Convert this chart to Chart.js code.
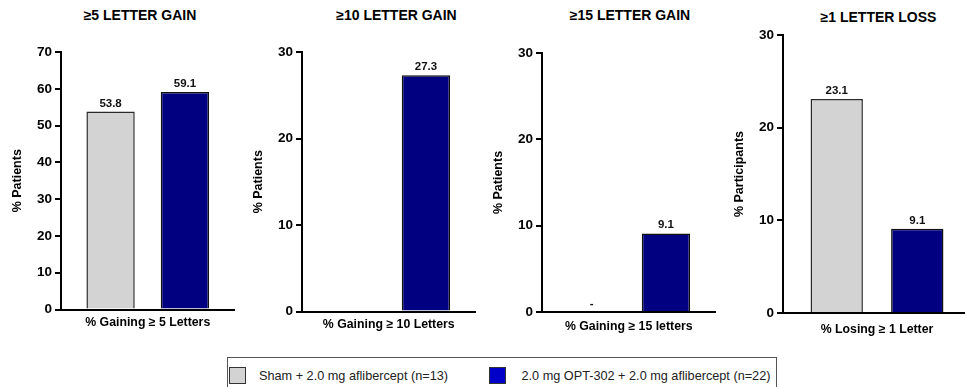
<!DOCTYPE html>
<html>
<head>
<meta charset="utf-8">
<script src="https://cdn.jsdelivr.net/npm/chart.js@4.4.1/dist/chart.umd.min.js"></script>
<style>
  html, body { margin: 0; padding: 0; background: #fff; }
  body { width: 965px; height: 387px; position: relative; overflow: hidden; font-family: "Liberation Sans", Arial, sans-serif; }
  canvas { position: absolute; top: 0; }
  .title { position: absolute; transform: translateX(-50%); font-size: 14px; font-weight: bold; line-height: 16px; white-space: nowrap; color: #000; }
  .legend { position: absolute; left: 227px; top: 357px; width: 550px; height: 31px; border: 1px solid #555; box-sizing: border-box; }
  .legend .sw { position: absolute; top: 9px; width: 17px; height: 17px; box-sizing: border-box; border: 1px solid #333; }
  .legend .tx { position: absolute; top: 10px; font-size: 12.7px; line-height: 16px; color: #222; white-space: nowrap; }
</style>
</head>
<body>
<div class="legend" id="legend"></div>
<script>
const titles = ['≥5 LETTER GAIN', '≥10 LETTER GAIN', '≥15 LETTER GAIN', '≥1 LETTER LOSS'];
const yTitles = ['% Patients', '% Patients', '% Patients', '% Participants'];
const xTitles = ['% Gaining ≥ 5 Letters', '% Gaining ≥ 10 Letters', '% Gaining ≥ 15 letters', '% Losing ≥ 1 Letter'];
const seriesNames = ['Sham + 2.0 mg aflibercept (n=13)', '2.0 mg OPT-302 + 2.0 mg aflibercept (n=22)'];
const shamValues = [53.8, 0, 0, 23.1];
const optValues = [59.1, 27.3, 9.1, 9.1];
const shamLabels = ['53.8', '', '-', '23.1'];
const optLabels = ['59.1', '27.3', '9.1', '9.1'];
const yMax = [70, 30, 30, 30];
const yStep = 10;

const FONT = '"Liberation Sans", Arial, sans-serif';
const COLORS = ['#d3d3d3', '#000080'];
const LEGEND_COLORS = ['#d3d3d3', '#0000c8'];
const Y_W = 55;

// where each panel sits on the page (px)
const panels = [
  { axisX: 61,  top: 52, bottom: 309.5, plotW: 173.5, titleX: 140,   titleY: 15, xGap: 13.5 },
  { axisX: 302, top: 52, bottom: 311.5, plotW: 173.5, titleX: 396.5, titleY: 15, xGap: 13.5 },
  { axisX: 542, top: 53, bottom: 312,   plotW: 173.5, titleX: 630,   titleY: 15, xGap: 14.5 },
  { axisX: 783, top: 35, bottom: 313,   plotW: 188,   titleX: 878.5, titleY: 17, xGap: 17 }
];

// value labels above the bars
const barLabels = {
  id: 'barLabels',
  afterDatasetsDraw(chart, args, opts) {
    const ctx = chart.ctx;
    ctx.save();
    ctx.font = 'bold 11.5px ' + FONT;
    ctx.fillStyle = '#111';
    ctx.textAlign = 'center';
    ctx.textBaseline = 'alphabetic';
    opts.labels.forEach((list, i) => {
      chart.getDatasetMeta(i).data.forEach((bar, j) => {
        if (list[j]) ctx.fillText(list[j], bar.x, bar.y - 5);
      });
    });
    ctx.restore();
  }
};

panels.forEach((p, i) => {
  const t = document.createElement('div');
  t.className = 'title';
  t.textContent = titles[i];
  t.style.left = p.titleX + 'px';
  t.style.top = (p.titleY - 8) + 'px';
  document.body.appendChild(t);

  const cv = document.createElement('canvas');
  const w = Math.round(Y_W + p.plotW + 10);
  const h = Math.ceil(p.bottom + 30);
  const xH = h - p.bottom;
  cv.width = w;
  cv.height = h;
  cv.style.left = (p.axisX - Y_W) + 'px';
  cv.style.width = w + 'px';
  cv.style.height = h + 'px';
  document.body.appendChild(cv);

  new Chart(cv, {
    type: 'bar',
    data: {
      labels: [xTitles[i]],
      datasets: [
        { label: seriesNames[0], data: [shamValues[i]], backgroundColor: COLORS[0], borderColor: '#2a2a2a', borderWidth: 1.5 },
        { label: seriesNames[1], data: [optValues[i]], backgroundColor: COLORS[1], borderColor: '#111', borderWidth: 1.5 }
      ]
    },
    options: {
      responsive: false,
      animation: false,
      devicePixelRatio: 1,
      layout: { padding: { top: p.top, right: w - Y_W - p.plotW, left: 0, bottom: 0 } },
      datasets: { bar: { categoryPercentage: 0.857, barPercentage: 0.65 } },
      plugins: {
        legend: { display: false },
        tooltip: { enabled: false },
        barLabels: { labels: [[shamLabels[i]], [optLabels[i]]] }
      },
      scales: {
        x: {
          ticks: { display: false },
          grid: { display: false },
          border: { color: '#000', width: 2 },
          title: {
            display: true, text: xTitles[i], color: '#000',
            font: { family: FONT, size: 12.3, weight: 'bold' },
            padding: { top: 0, bottom: xH - p.xGap - 7.4 }
          },
          afterFit: s => { s.height = xH; }
        },
        y: {
          min: 0,
          max: yMax[i],
          ticks: { stepSize: yStep, color: '#000', padding: 3, font: { family: FONT, size: 13.5, weight: 'bold' } },
          grid: { drawOnChartArea: false, drawTicks: true, tickLength: 6, color: '#000', lineWidth: 2 },
          border: { color: '#000', width: 2 },
          title: {
            display: true, text: yTitles[i], color: '#000',
            font: { family: FONT, size: 12.5, weight: 'bold' },
            padding: { top: 4, bottom: 4 }
          },
          afterFit: s => { s.width = Y_W; }
        }
      }
    },
    plugins: [barLabels]
  });
});

// shared legend under the panels
const legend = document.getElementById('legend');
const legendPos = [{ sw: 1, tx: 31 }, { sw: 261, tx: 293.5 }];
seriesNames.forEach((name, i) => {
  const sw = document.createElement('div');
  sw.className = 'sw';
  sw.style.left = legendPos[i].sw + 'px';
  sw.style.background = LEGEND_COLORS[i];
  legend.appendChild(sw);
  const tx = document.createElement('div');
  tx.className = 'tx';
  tx.style.left = legendPos[i].tx + 'px';
  tx.textContent = name;
  legend.appendChild(tx);
});
</script>
</body>
</html>
